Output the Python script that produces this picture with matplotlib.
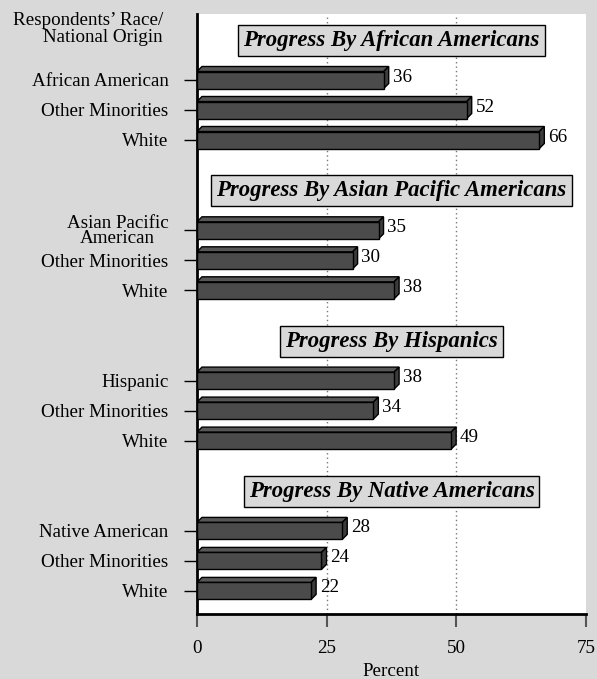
import matplotlib
matplotlib.use("Agg")
import matplotlib.pyplot as plt
from matplotlib.patches import Polygon, Rectangle

# ---- data ----
group_titles = ["Progress By African Americans", "Progress By Asian Pacific Americans",
                "Progress By Hispanics", "Progress By Native Americans"]
group_labels = [["African American", "Other Minorities", "White"],
                ["Asian Pacific\nAmerican", "Other Minorities", "White"],
                ["Hispanic", "Other Minorities", "White"],
                ["Native American", "Other Minorities", "White"]]
group_values = [[36, 52, 66],
                [35, 30, 38],
                [38, 34, 49],
                [28, 24, 22]]
x_ticks = [0, 25, 50, 75]

# ---- style ----
W, H = 597, 679
BG = "#d9d9d9"
FRONT = "#4b4b4b"
TOP = "#575757"
SIDE = "#3c3c3c"
SERIF = ["Liberation Serif", "DejaVu Serif"]
FS = 13.7

fig = plt.figure(figsize=(W / 100, H / 100), dpi=100, facecolor=BG)
ax_left, ax_right, ax_top, ax_bot = 197, 586, 14, 614
ax = fig.add_axes([ax_left / W, 1 - ax_bot / H, (ax_right - ax_left) / W, (ax_bot - ax_top) / H])
ax.set_facecolor("white")
ax.set_xlim(0, 75)
ax.set_ylim(ax_bot, ax_top)  # y in pixel-like units, inverted

first, group_step, item_step = 80, 150.3, 30
bar_h = 17
dy = 5
dx = 5 * 75 / (ax_right - ax_left)

for x in (25, 50):
    ax.axvline(x, color="#777777", lw=1, ls=(0, (1, 2.2)), zorder=0)

yticks, ylabels = [], []
for g, (title, labels, vals) in enumerate(zip(group_titles, group_labels, group_values)):
    base = first + g * group_step
    ax.text(37.5, base - 39.5, title, ha="center", va="center",
            fontsize=16.4, fontweight="bold", fontstyle="italic", family=SERIF,
            bbox=dict(boxstyle="square,pad=0.22", fc=BG, ec="black", lw=1), zorder=5)
    for i, (lab, v) in enumerate(zip(labels, vals)):
        c = base + i * item_step
        yticks.append(c)
        ylabels.append(lab)
        top, bot = c - bar_h / 2, c + bar_h / 2
        ax.add_patch(Polygon([(0, top), (v, top), (v + dx, top - dy), (dx, top - dy)],
                             closed=True, fc=TOP, ec="black", lw=1, zorder=3))
        ax.add_patch(Polygon([(v, top), (v + dx, top - dy), (v + dx, bot - dy), (v, bot)],
                             closed=True, fc=SIDE, ec="black", lw=1, zorder=3))
        ax.add_patch(Rectangle((0, top), v, bar_h, fc=FRONT, ec="black", lw=1, zorder=4))
        ax.text(v + dx + 0.75, c - 3, str(v), ha="left", va="center",
                fontsize=FS, family=SERIF, zorder=6)

ax.set_yticks(yticks)
ax.set_yticklabels(ylabels, fontsize=FS, family=SERIF, linespacing=0.85)
for t in ax.get_yticklabels():
    if "\n" in t.get_text():
        t.set_multialignment("center")
ax.set_xticks(x_ticks)
ax.set_xticklabels([str(t) for t in x_ticks], fontsize=FS, family=SERIF)
ax.tick_params(axis="y", length=9.5, width=1, color="black", pad=11)
ax.tick_params(axis="x", length=9.5, width=1.5, color="#555555", pad=9)

for s in ("top", "right"):
    ax.spines[s].set_visible(False)
for s in ("left", "bottom"):
    ax.spines[s].set_linewidth(2)
    ax.spines[s].set_color("black")

fig.text(163 / W, 1 - 29 / H, "Respondents\u2019 Race/\nNational Origin", ha="right", va="center",
         fontsize=FS, family=SERIF, linespacing=1.0)
fig.text((ax_left + ax_right) / 2 / W, 1 - 672 / H, "Percent", ha="center", va="center",
         fontsize=FS, family=SERIF)

fig.savefig("out.png", dpi=100, facecolor=BG)
